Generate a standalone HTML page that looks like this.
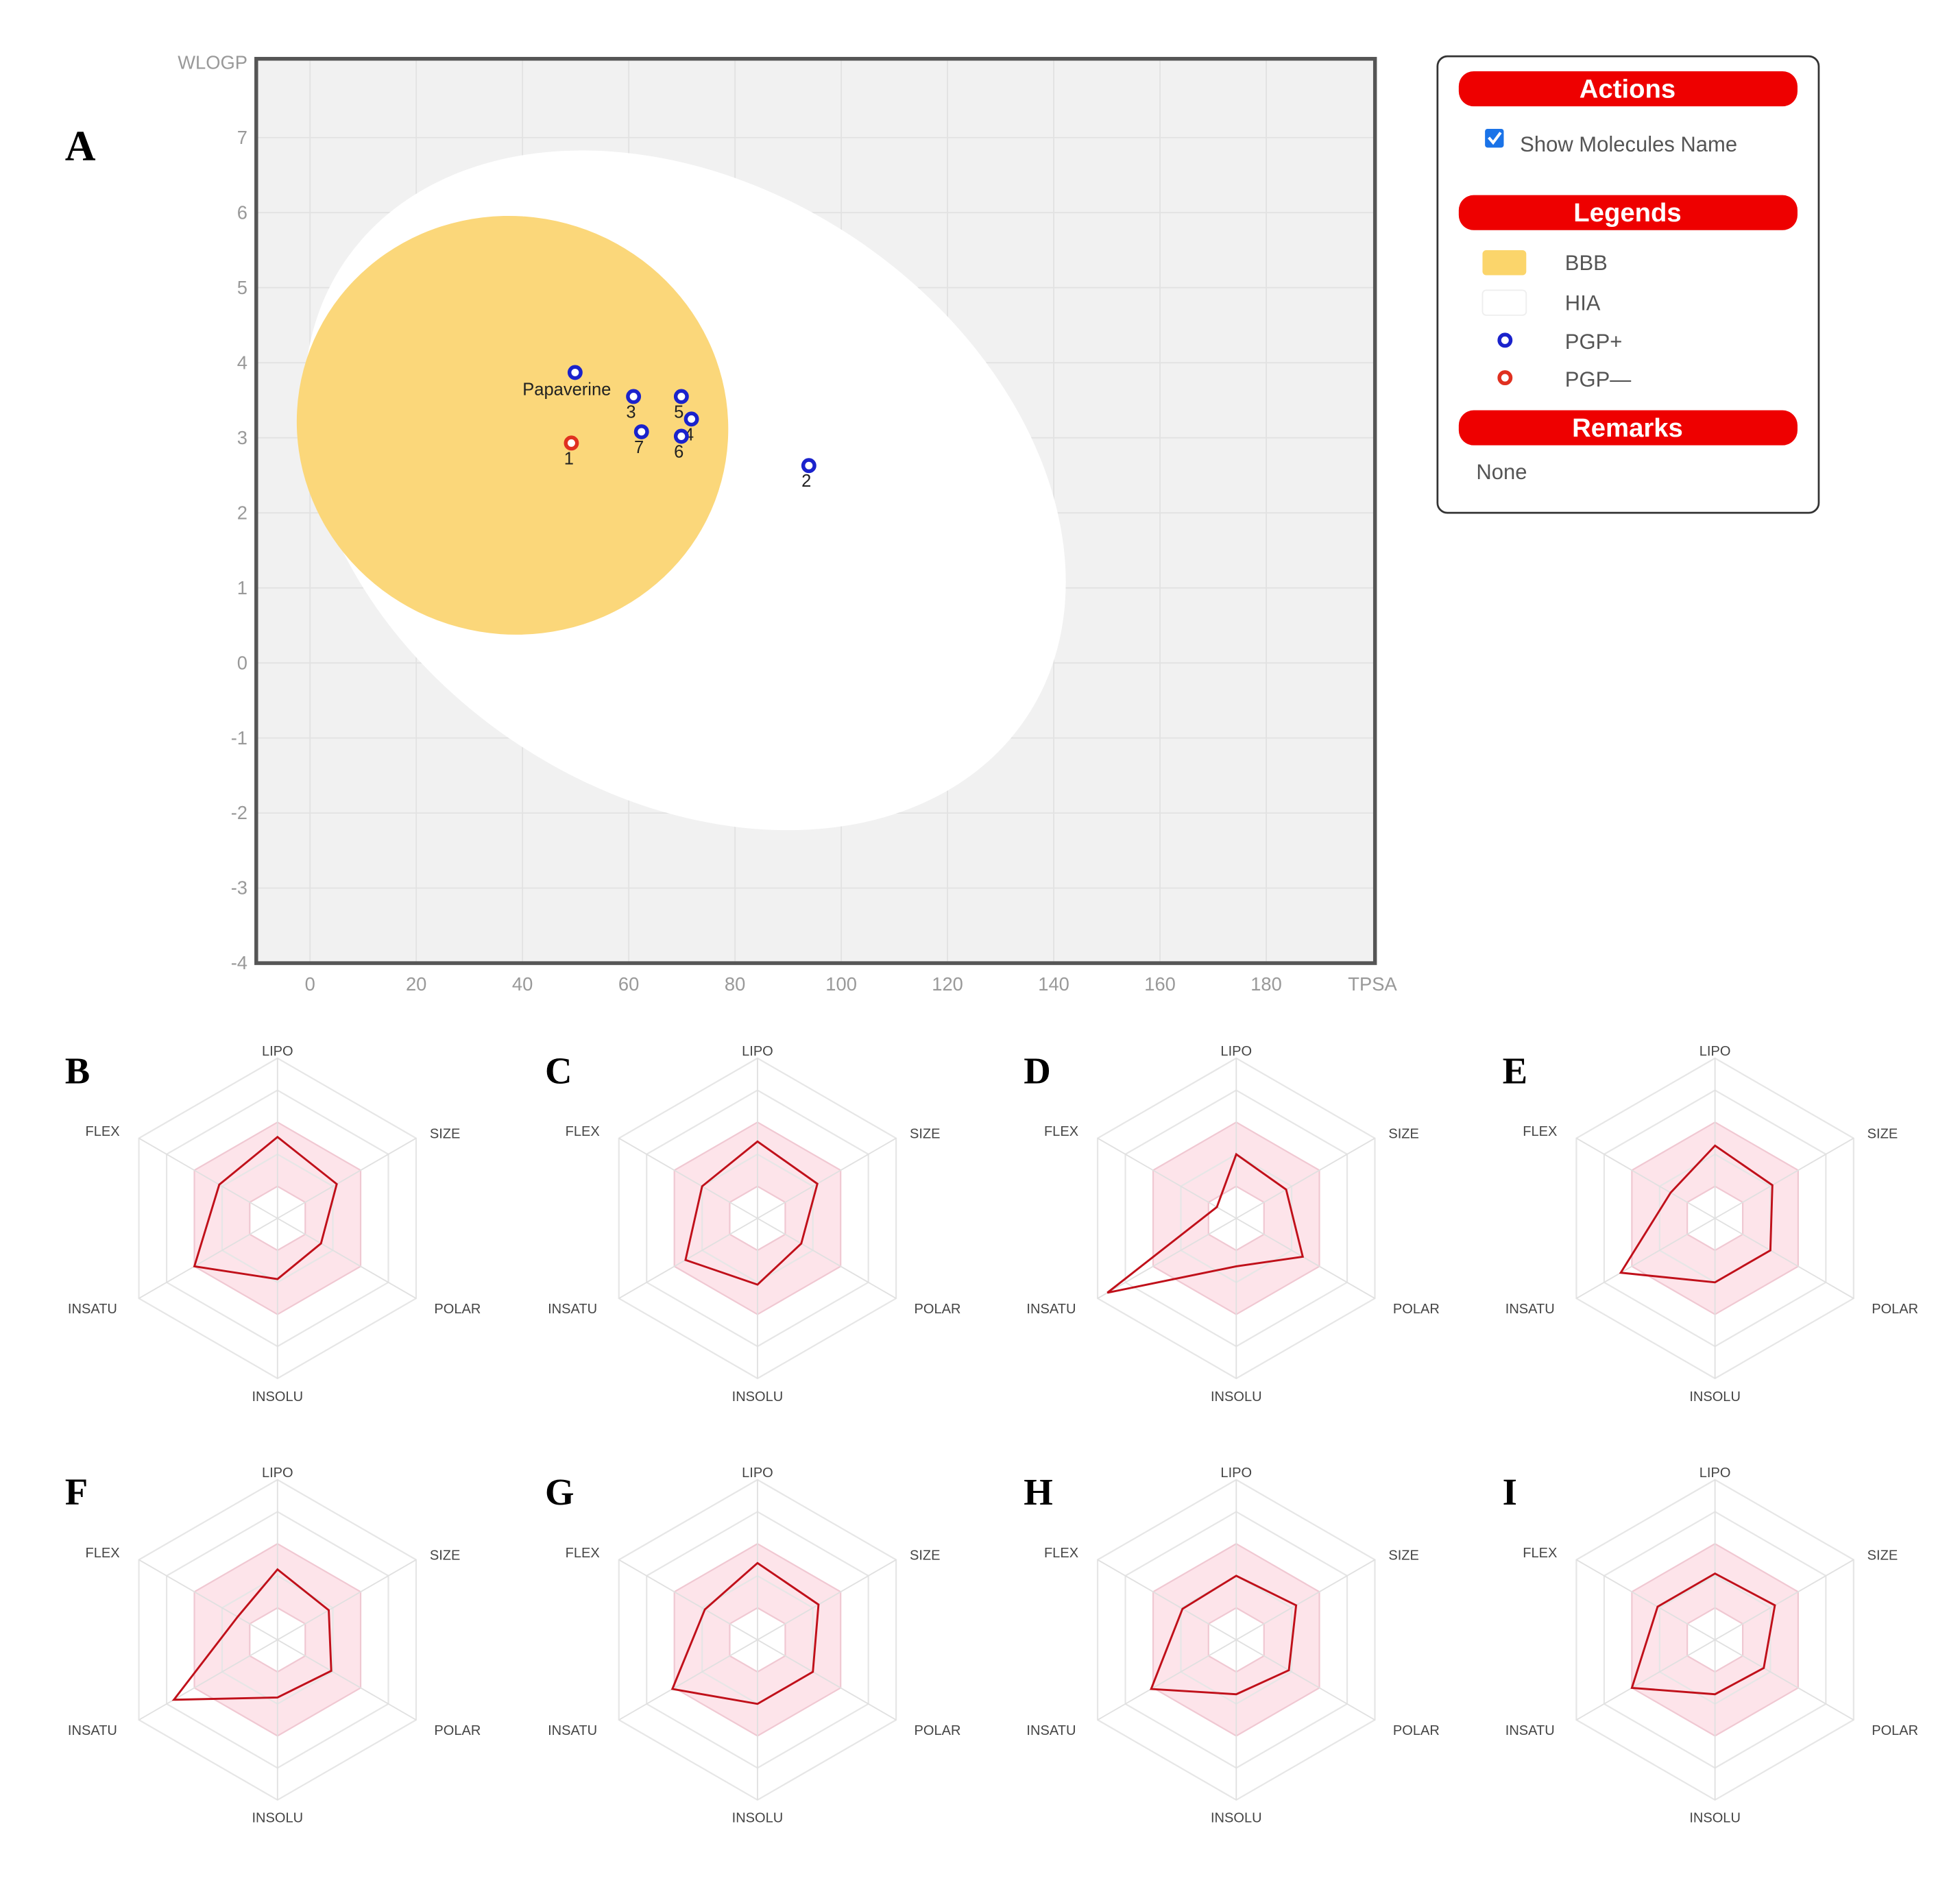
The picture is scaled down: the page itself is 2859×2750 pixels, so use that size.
<!DOCTYPE html>
<html><head><meta charset="utf-8">
<style>
html,body{margin:0;padding:0;background:#fff;}
svg{display:block;}
</style></head>
<body>
<svg id="root" width="2859" height="2750" viewBox="0 0 1568 1507" preserveAspectRatio="none" xmlns="http://www.w3.org/2000/svg" font-family="Liberation Sans, sans-serif">
<rect width="1568" height="1507" fill="#fff"/>
<g id="plotA"></g>
<g id="legendBox">
  <rect x="1150" y="45" width="305" height="365" rx="8" fill="#fff" stroke="#333" stroke-width="1.5"/>
  <rect x="1167" y="57" width="271" height="28" rx="12" fill="#ee0000"/>
  <text x="1302" y="78" text-anchor="middle" fill="#fff" font-weight="bold" font-size="21">Actions</text>
  <rect x="1188" y="103" width="15" height="15" rx="2" fill="#1a73e8"/>
  <path d="M1191 110 l3.5 4 l6 -8" stroke="#fff" stroke-width="2.2" fill="none"/>
  <text x="1216" y="121" fill="#555" font-size="17">Show Molecules Name</text>
  <rect x="1167" y="156" width="271" height="28" rx="12" fill="#ee0000"/>
  <text x="1302" y="177" text-anchor="middle" fill="#fff" font-weight="bold" font-size="21">Legends</text>
  <rect x="1186" y="200" width="35" height="20" rx="3" fill="#fbd56b"/>
  <text x="1252" y="216" fill="#555" font-size="17">BBB</text>
  <rect x="1186" y="232" width="35" height="20" rx="3" fill="#fff" stroke="#eee"/>
  <text x="1252" y="248" fill="#555" font-size="17">HIA</text>
  <circle cx="1204" cy="272" r="4.5" fill="#fff" stroke="#1a22cc" stroke-width="3"/>
  <text x="1252" y="279" fill="#555" font-size="17">PGP+</text>
  <circle cx="1204" cy="302" r="4.5" fill="#fff" stroke="#e03020" stroke-width="3"/>
  <text x="1252" y="309" fill="#555" font-size="17">PGP—</text>
  <rect x="1167" y="328" width="271" height="28" rx="12" fill="#ee0000"/>
  <text x="1302" y="349" text-anchor="middle" fill="#fff" font-weight="bold" font-size="21">Remarks</text>
  <text x="1181" y="383" fill="#555" font-size="17">None</text>
</g>
<g id="radars"></g>
</svg>
<script>
// ---- Boiled egg data ----
const molNames = ["Papaverine","3","5","4","7","6","1","2"];
const molTPSA = [49.9, 60.9, 69.9, 71.8, 62.4, 69.9, 49.2, 93.9];
const molWLOGP = [3.87, 3.55, 3.55, 3.25, 3.08, 3.02, 2.93, 2.63];
const molPGP = ["+","+","+","+","+","+","-","+"];
const xTicks = [0,20,40,60,80,100,120,140,160,180];
const yTicks = [-4,-3,-2,-1,0,1,2,3,4,5,6,7];

const NS = "http://www.w3.org/2000/svg";
function mk(tag, attrs, parent){ const e=document.createElementNS(NS,tag); for(const k in attrs) e.setAttribute(k,attrs[k]); parent.appendChild(e); return e; }
const X0=205, X1=1100, Y0=47, Y1=770;
const xs = v => 248 + v*4.25;
const ys = v => 110 + (7-v)*60;

const A = document.getElementById('plotA');
const lblA = mk('text',{x:52,y:128,'font-family':'Liberation Serif, serif','font-weight':'bold','font-size':34,fill:'#000'},A); lblA.textContent='A';


mk('rect',{x:X0,y:Y0,width:X1-X0,height:Y1-Y0,fill:'#f1f1f1'},A);
xTicks.forEach(t=>{ mk('line',{x1:xs(t),x2:xs(t),y1:Y0,y2:Y1,stroke:'#e2e2e2','stroke-width':1},A); });
yTicks.forEach(t=>{ mk('line',{x1:X0,x2:X1,y1:ys(t),y2:ys(t),stroke:'#e2e2e2','stroke-width':1},A); });
const hia = mk('ellipse',{cx:548,cy:392,rx:328,ry:243,transform:'rotate(33.5 548 392)',fill:'#fff'},A);


const bbb = mk('ellipse',{cx:410,cy:340,rx:173,ry:167,transform:'rotate(15 410 340)',fill:'#fbd77a'},A);


mk('rect',{x:X0,y:Y0,width:X1-X0,height:Y1-Y0,fill:'none',stroke:'#555','stroke-width':3},A);
xTicks.forEach(t=>{ const tx=mk('text',{x:xs(t),y:792,'text-anchor':'middle','font-size':15,fill:'#999'},A); tx.textContent=t;
  
   });
yTicks.forEach(t=>{ const tx=mk('text',{x:198,y:ys(t)+5,'text-anchor':'end','font-size':15,fill:'#999'},A); tx.textContent=t;
  
   });
const xt=mk('text',{x:1098,y:792,'text-anchor':'middle','font-size':15,fill:'#999'},A); xt.textContent='TPSA';


const yt=mk('text',{x:198,y:55,'text-anchor':'end','font-size':15,fill:'#999'},A); yt.textContent='WLOGP';


molNames.forEach((n,i)=>{
  const cx=xs(molTPSA[i]), cy=ys(molWLOGP[i]);
  const c=mk('circle',{cx:cx,cy:cy,r:4.5,fill:'#fff',stroke: molPGP[i]==='+'?'#1a22cc':'#e03020','stroke-width':3},A);
  
  
  let t;
  if(n==='Papaverine'){ t=mk('text',{x:cx-42,y:cy+18,'font-size':14,fill:'#222'},A); }
  else { t=mk('text',{x:cx-2,y:cy+17,'text-anchor':'middle','font-size':14,fill:'#222'},A); }
  t.textContent=n;
  
  
});

// ---- Radar data (0..5 grid levels; order LIPO, SIZE, POLAR, INSOLU, INSATU, FLEX) ----
const radarAxes = ["LIPO","SIZE","POLAR","INSOLU","INSATU","FLEX"];
const panelLetters = ["B","C","D","E","F","G","H","I"];
const radarB = [2.54, 2.14, 1.57, 1.9, 3.0, 2.1];
const radarC = [2.4, 2.16, 1.58, 2.07, 2.6, 2.0];
const radarD = [2.0, 1.8, 2.4, 1.5, 4.65, 0.7];
const radarE = [2.27, 2.07, 2.0, 2.0, 3.4, 1.6];
const radarF = [2.2, 1.85, 1.94, 1.8, 3.74, 1.44];
const radarG = [2.4, 2.2, 2.0, 2.0, 3.07, 1.9];
const radarH = [2.0, 2.16, 1.9, 1.7, 3.07, 1.94];
const radarI = [2.07, 2.16, 1.76, 1.7, 3.0, 2.07];
const radarSeries = [radarB, radarC, radarD, radarE, radarF, radarG, radarH, radarI];

const R = document.getElementById('radars');
const cxs=[222,606,989,1372], cys=[974,1311];
const unit = 25.6;
const ang = k => (-90 + 60*k)*Math.PI/180;
const pt = (cx,cy,k,r) => [cx + r*Math.cos(ang(k)), cy + r*Math.sin(ang(k))];
const hex = (cx,cy,r) => [0,1,2,3,4,5].map(k=>pt(cx,cy,k,r).map(v=>v.toFixed(1)).join(',')).join(' ');
const labelOff = [[0,-134],[134,-68],[144,72],[0,142],[-148,72],[-140,-70]];
radarSeries.forEach((vals,p)=>{
  const cx=cxs[p%4], cy=cys[Math.floor(p/4)];
  const g=mk('g',{},R);
  
  
  const L=mk('text',{x:cx-170,y:cy-108,'font-family':'Liberation Serif, serif','font-weight':'bold','font-size':30,fill:'#000'},g);
  L.textContent=panelLetters[p];
  
  
  mk('path',{d:'M'+hex(cx,cy,3*unit).split(' ').join(' L')+' Z M'+hex(cx,cy,unit).split(' ').join(' L')+' Z','fill-rule':'evenodd',fill:'#fde4ea'},g);
  for(let l=1;l<=5;l++) mk('polygon',{points:hex(cx,cy,l*unit),fill:'none',stroke: (l===1||l===3)?'#f0c8d2':'#e6e6e6','stroke-width':1.2},g);
  for(let k=0;k<6;k++){ const e=pt(cx,cy,k,5*unit); mk('line',{x1:cx,y1:cy,x2:e[0],y2:e[1],stroke:'#e0e0e0','stroke-width':1},g); }
  const pts=vals.map((v,k)=>pt(cx,cy,k,v*unit).map(x=>x.toFixed(1)).join(',')).join(' ');
  const poly=mk('polygon',{points:pts,fill:'none',stroke:'#c0101a','stroke-width':1.6},g);
  
  
  radarAxes.forEach((a,k)=>{
    const t=mk('text',{x:cx+labelOff[k][0],y:cy+labelOff[k][1]+4,'text-anchor':'middle','font-size':11,fill:'#444'},g);
    t.textContent=a;
    
    
  });
});
</script>
</body></html>
